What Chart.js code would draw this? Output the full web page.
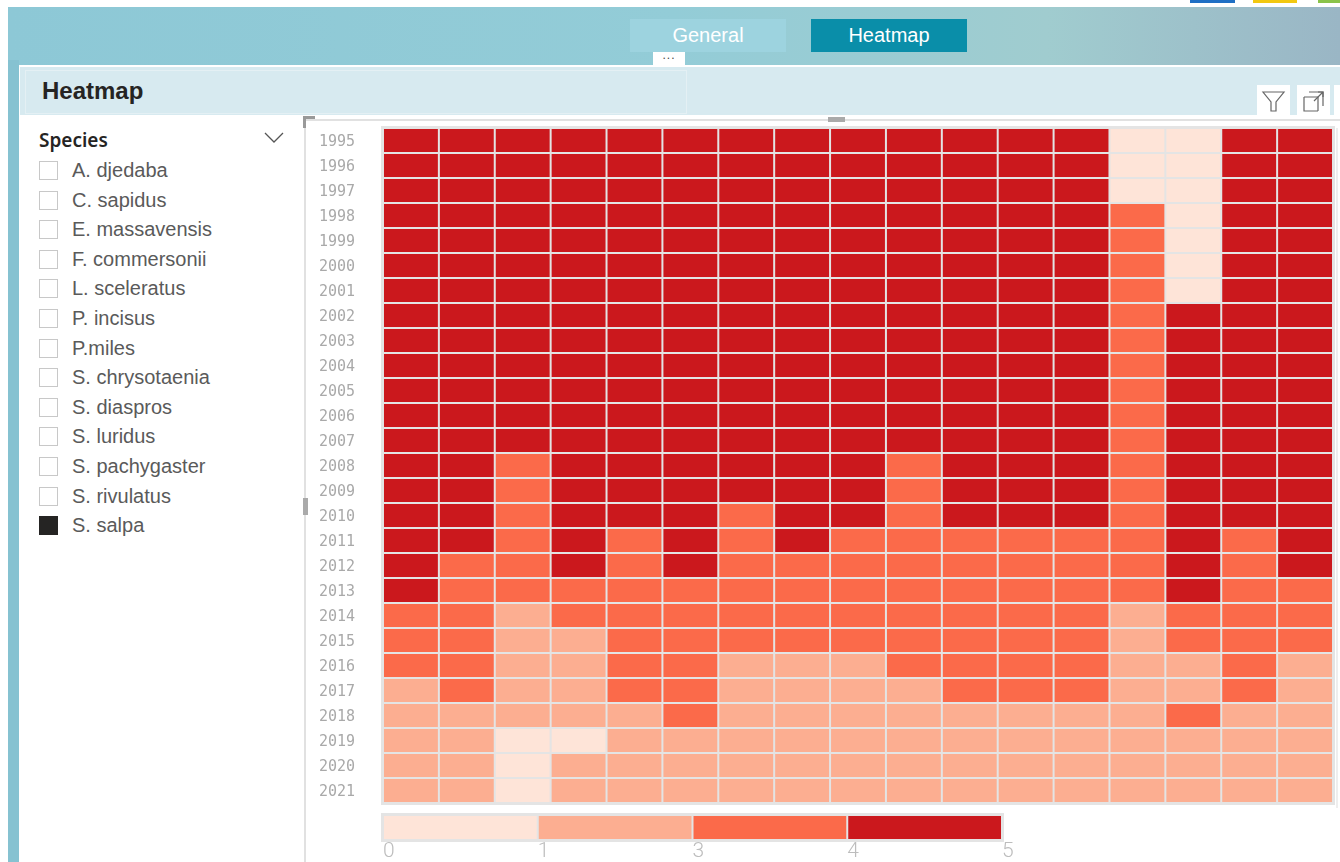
<!DOCTYPE html>
<html>
<head>
<meta charset="utf-8">
<script src="https://cdn.jsdelivr.net/npm/chart.js@4.4.1/dist/chart.umd.min.js"></script>
<style>
  html, body { margin: 0; padding: 0; }
  body { width: 1340px; height: 862px; overflow: hidden; position: relative; background: #fff; font-family: 'Liberation Sans', Arial, sans-serif; }
  .abs { position: absolute; }
  #banner { left: 8px; top: 7px; right: 0; height: 70px; background: linear-gradient(90deg, #8dc8d6 0%, #93ccd7 50%, #a0cccf 78%, #9ab6c5 100%); }
  #leftStrip { left: 8px; top: 60px; width: 11px; bottom: 0; background: #86c2d1; }
  .tab { top: 19px; height: 33px; width: 156px; color: #fff; font-size: 20px; line-height: 33px; text-align: center; }
  #tabGeneral { left: 630px; background: #9dd3df; }
  #tabHeatmap { left: 811px; background: #0a8ea9; }
  #dots { left: 653px; top: 52px; width: 32px; height: 14px; background: #fff; font-size: 12px; line-height: 6px; text-align: center; color: #444; letter-spacing: 1px; }
  #panel { left: 19px; top: 65px; right: 0; bottom: 0; background: #fff; }
  #titleBar { left: 20px; top: 67px; right: 0; height: 48px; background: #d7eaf0; }
  #titleBox { left: 25px; top: 70px; width: 660px; height: 42px; border: 1px solid #e4f0f4; }
  #title { left: 42px; top: 77px; font-size: 24px; font-weight: bold; color: #252423; }
  .iconBox { top: 85px; width: 33px; height: 32px; background: #fff; }
  #slicerHead { left: 39px; top: 127px; font-family: 'Noto Sans', sans-serif; font-weight: 600; font-size: 19px; color: #252423; }
  .item { left: 39px; height: 22px; }
  .item .box { position: absolute; left: 0; top: 0; width: 19px; height: 19px; border: 1px solid #c8c8c8; box-sizing: border-box; background: #fff; }
  .item .box.on { background: #252423; border-color: #252423; }
  .item span { position: absolute; left: 33px; top: -2px; font-size: 20px; color: #5a5a5a; white-space: nowrap; }
  #vline { left: 304px; top: 120px; width: 2px; bottom: 0; background: #e1e1e1; }
  #hline { left: 305px; top: 119px; right: 0; height: 2px; background: #e1e1e1; }
  #heatWrap { left: 306px; top: 118px; width: 1034px; height: 695px; }
  #legendWrap { left: 306px; top: 805px; width: 1034px; height: 57px; }
</style>
</head>
<body>
<div class="abs" style="left:1190px;top:0;width:45px;height:3px;background:#1f6fc4"></div>
<div class="abs" style="left:1253px;top:0;width:44px;height:3px;background:#f2c811"></div>
<div class="abs" style="left:1318px;top:0;width:22px;height:3px;background:#8bc34a"></div>
<div id="banner" class="abs"></div>
<div id="leftStrip" class="abs"></div>
<div id="tabGeneral" class="abs tab">General</div>
<div id="tabHeatmap" class="abs tab">Heatmap</div>
<div id="panel" class="abs"></div>
<div id="dots" class="abs">...</div>
<div id="titleBar" class="abs"></div>
<div id="titleBox" class="abs"></div>
<div id="title" class="abs">Heatmap</div>
<div class="abs iconBox" style="left:1257px">
  <svg width="33" height="32"><path d="M6 7 H27 L19 17 V26 H14 V17 Z" fill="none" stroke="#666" stroke-width="1.2"/></svg>
</div>
<div class="abs iconBox" style="left:1297px">
  <svg width="33" height="32"><path d="M7 12 V26 H21 M12 7 H26 V21 M7 12 H21 V26" fill="none" stroke="#666" stroke-width="1.2"/><path d="M17 16 L26 7 M21 7 H26 V12" fill="none" stroke="#666" stroke-width="1.2"/></svg>
</div>
<div class="abs iconBox" style="left:1334px;width:6px"></div>

<div id="slicerHead" class="abs">Species</div>
<svg class="abs" style="left:264px;top:132px" width="20" height="12"><path d="M1 1 L10 10 L19 1" fill="none" stroke="#555" stroke-width="1.3"/></svg>
<div id="slicer"></div>

<div id="vline" class="abs"></div>
<div id="hline" class="abs"></div>
<div class="abs" style="left:303px;top:116px;width:12px;height:3px;background:#999"></div>
<div class="abs" style="left:303px;top:116px;width:3px;height:12px;background:#999"></div>
<div class="abs" style="left:828px;top:117px;width:17px;height:5px;background:#aaa"></div>
<div class="abs" style="left:303px;top:498px;width:5px;height:17px;background:#aaa"></div>
<div class="abs" style="left:1336px;top:128px;width:2px;height:680px;background:#eee"></div>

<div id="heatWrap" class="abs"><canvas id="heatChart"></canvas></div>
<div id="legendWrap" class="abs"><canvas id="legendChart"></canvas></div>

<script>
// Slicer entries
const species = ['A. djedaba', 'C. sapidus', 'E. massavensis', 'F. commersonii', 'L. sceleratus',
    'P. incisus', 'P.miles', 'S. chrysotaenia', 'S. diaspros', 'S. luridus',
    'S. pachygaster', 'S. rivulatus', 'S. salpa'];
const selectedSpecies = 'S. salpa';

// Rows (years) and columns of the heatmap
const years = ['1995', '1996', '1997', '1998', '1999', '2000', '2001', '2002', '2003', '2004',
    '2005', '2006', '2007', '2008', '2009', '2010', '2011', '2012', '2013', '2014',
    '2015', '2016', '2017', '2018', '2019', '2020', '2021'];
const columns = ['C1', 'C2', 'C3', 'C4', 'C5', 'C6', 'C7', 'C8', 'C9',
    'C10', 'C11', 'C12', 'C13', 'C14', 'C15', 'C16', 'C17'];

// Cell values per year (one entry per column)
const heat = [
    [4.5, 4.5, 4.5, 4.5, 4.5, 4.5, 4.5, 4.5, 4.5, 4.5, 4.5, 4.5, 4.5, 0.5, 0.5, 4.5, 4.5], // 1995
    [4.5, 4.5, 4.5, 4.5, 4.5, 4.5, 4.5, 4.5, 4.5, 4.5, 4.5, 4.5, 4.5, 0.5, 0.5, 4.5, 4.5],
    [4.5, 4.5, 4.5, 4.5, 4.5, 4.5, 4.5, 4.5, 4.5, 4.5, 4.5, 4.5, 4.5, 0.5, 0.5, 4.5, 4.5],
    [4.5, 4.5, 4.5, 4.5, 4.5, 4.5, 4.5, 4.5, 4.5, 4.5, 4.5, 4.5, 4.5, 3.5, 0.5, 4.5, 4.5], // 1998
    [4.5, 4.5, 4.5, 4.5, 4.5, 4.5, 4.5, 4.5, 4.5, 4.5, 4.5, 4.5, 4.5, 3.5, 0.5, 4.5, 4.5],
    [4.5, 4.5, 4.5, 4.5, 4.5, 4.5, 4.5, 4.5, 4.5, 4.5, 4.5, 4.5, 4.5, 3.5, 0.5, 4.5, 4.5],
    [4.5, 4.5, 4.5, 4.5, 4.5, 4.5, 4.5, 4.5, 4.5, 4.5, 4.5, 4.5, 4.5, 3.5, 0.5, 4.5, 4.5],
    [4.5, 4.5, 4.5, 4.5, 4.5, 4.5, 4.5, 4.5, 4.5, 4.5, 4.5, 4.5, 4.5, 3.5, 4.5, 4.5, 4.5], // 2002
    [4.5, 4.5, 4.5, 4.5, 4.5, 4.5, 4.5, 4.5, 4.5, 4.5, 4.5, 4.5, 4.5, 3.5, 4.5, 4.5, 4.5],
    [4.5, 4.5, 4.5, 4.5, 4.5, 4.5, 4.5, 4.5, 4.5, 4.5, 4.5, 4.5, 4.5, 3.5, 4.5, 4.5, 4.5],
    [4.5, 4.5, 4.5, 4.5, 4.5, 4.5, 4.5, 4.5, 4.5, 4.5, 4.5, 4.5, 4.5, 3.5, 4.5, 4.5, 4.5],
    [4.5, 4.5, 4.5, 4.5, 4.5, 4.5, 4.5, 4.5, 4.5, 4.5, 4.5, 4.5, 4.5, 3.5, 4.5, 4.5, 4.5],
    [4.5, 4.5, 4.5, 4.5, 4.5, 4.5, 4.5, 4.5, 4.5, 4.5, 4.5, 4.5, 4.5, 3.5, 4.5, 4.5, 4.5], // 2007
    [4.5, 4.5, 3.5, 4.5, 4.5, 4.5, 4.5, 4.5, 4.5, 3.5, 4.5, 4.5, 4.5, 3.5, 4.5, 4.5, 4.5], // 2008
    [4.5, 4.5, 3.5, 4.5, 4.5, 4.5, 4.5, 4.5, 4.5, 3.5, 4.5, 4.5, 4.5, 3.5, 4.5, 4.5, 4.5],
    [4.5, 4.5, 3.5, 4.5, 4.5, 4.5, 3.5, 4.5, 4.5, 3.5, 4.5, 4.5, 4.5, 3.5, 4.5, 4.5, 4.5], // 2010
    [4.5, 4.5, 3.5, 4.5, 3.5, 4.5, 3.5, 4.5, 3.5, 3.5, 3.5, 3.5, 3.5, 3.5, 4.5, 3.5, 4.5],
    [4.5, 3.5, 3.5, 4.5, 3.5, 4.5, 3.5, 3.5, 3.5, 3.5, 3.5, 3.5, 3.5, 3.5, 4.5, 3.5, 4.5], // 2012
    [4.5, 3.5, 3.5, 3.5, 3.5, 3.5, 3.5, 3.5, 3.5, 3.5, 3.5, 3.5, 3.5, 3.5, 4.5, 3.5, 3.5],
    [3.5, 3.5, 2, 3.5, 3.5, 3.5, 3.5, 3.5, 3.5, 3.5, 3.5, 3.5, 3.5, 2, 3.5, 3.5, 3.5], // 2014
    [3.5, 3.5, 2, 2, 3.5, 3.5, 3.5, 3.5, 3.5, 3.5, 3.5, 3.5, 3.5, 2, 3.5, 3.5, 3.5],
    [3.5, 3.5, 2, 2, 3.5, 3.5, 2, 2, 2, 3.5, 3.5, 3.5, 3.5, 2, 2, 3.5, 2], // 2016
    [2, 3.5, 2, 2, 3.5, 3.5, 2, 2, 2, 2, 3.5, 3.5, 3.5, 2, 2, 3.5, 2],
    [2, 2, 2, 2, 2, 3.5, 2, 2, 2, 2, 2, 2, 2, 2, 3.5, 2, 2], // 2018
    [2, 2, 0.5, 0.5, 2, 2, 2, 2, 2, 2, 2, 2, 2, 2, 2, 2, 2],
    [2, 2, 0.5, 2, 2, 2, 2, 2, 2, 2, 2, 2, 2, 2, 2, 2, 2],
    [2, 2, 0.5, 2, 2, 2, 2, 2, 2, 2, 2, 2, 2, 2, 2, 2, 2]  // 2021
];

// Color buckets: [0,1) [1,3) [3,4) [4,5]
const bucketEdges = [0, 1, 3, 4, 5];
const bucketTicks = ['0', '1', '3', '4', '5'];
const bucketColors = ['#fee4d8', '#fcae91', '#fb6a4a', '#cb181d'];
const gapColor = '#e4e4e4';

function colorFor(v) {
    for (let k = bucketColors.length - 1; k >= 0; k--) {
        if (v >= bucketEdges[k]) return bucketColors[k];
    }
    return bucketColors[0];
}

// slicer list
const slicer = document.getElementById('slicer');
species.forEach((name, i) => {
    const el = document.createElement('div');
    el.className = 'abs item';
    el.style.top = (161 + i * 29.6) + 'px';
    el.innerHTML = '<div class="box' + (name === selectedSpecies ? ' on' : '') + '"></div><span>' + name + '</span>';
    slicer.appendChild(el);
});

// gray backdrop behind the cells
const backdrop = {
    id: 'backdrop',
    beforeDatasetsDraw(chart) {
        const { ctx, chartArea: a } = chart;
        ctx.save();
        ctx.fillStyle = gapColor;
        ctx.fillRect(a.left - 2, a.top - 2, a.width + 4, a.height + 4);
        ctx.restore();
    }
};

const cellStyle = {
    borderColor: gapColor,
    borderWidth: 1,
    borderSkipped: false,
    inflateAmount: 0,
    barPercentage: 1,
    categoryPercentage: 1
};

new Chart(document.getElementById('heatChart'), {
    type: 'bar',
    data: {
        labels: years,
        datasets: columns.map((col, j) => Object.assign({
            label: col,
            data: years.map(() => 1),
            backgroundColor: years.map((y, i) => colorFor(heat[i][j]))
        }, cellStyle))
    },
    options: {
        indexAxis: 'y',
        responsive: true,
        maintainAspectRatio: false,
        animation: false,
        layout: { padding: { top: 10, bottom: 10, left: 0, right: 7 } },
        plugins: { legend: { display: false }, tooltip: { enabled: false } },
        scales: {
            x: { stacked: true, min: 0, max: columns.length, display: false },
            y: {
                stacked: true,
                grid: { display: false, drawTicks: false },
                border: { display: false },
                afterFit: (axis) => {
                    axis.width = 77;
                    axis.paddingTop = 0;
                    axis.paddingBottom = 0;
                },
                ticks: {
                    padding: 28,
                    labelOffset: 2,
                    color: '#a9a9a9',
                    font: { family: "'DejaVu Sans Mono', monospace", size: 15 }
                }
            }
        }
    },
    plugins: [backdrop]
});

// Color legend bar
new Chart(document.getElementById('legendChart'), {
    type: 'bar',
    data: {
        labels: [''],
        datasets: bucketColors.map((c, k) => Object.assign({
            label: bucketTicks[k] + '-' + bucketTicks[k + 1],
            data: [1],
            backgroundColor: c
        }, cellStyle))
    },
    options: {
        indexAxis: 'y',
        responsive: true,
        maintainAspectRatio: false,
        animation: false,
        layout: { padding: { top: 10, bottom: 0, left: 77, right: 338 } },
        plugins: { legend: { display: false }, tooltip: { enabled: false } },
        scales: {
            x: {
                stacked: true,
                min: 0,
                max: bucketColors.length,
                grid: { display: false },
                border: { display: false },
                afterFit: (axis) => {
                    axis.height = 22;
                    axis.paddingLeft = 0;
                    axis.paddingRight = 0;
                },
                ticks: {
                    stepSize: 1,
                    align: 'start',
                    padding: -9,
                    color: '#bdbdbd',
                    font: { family: 'Roboto, sans-serif', weight: 300, size: 21 },
                    callback: (v, i) => bucketTicks[i]
                }
            },
            y: { stacked: true, display: false }
        }
    },
    plugins: [backdrop]
});
</script>
</body>
</html>
